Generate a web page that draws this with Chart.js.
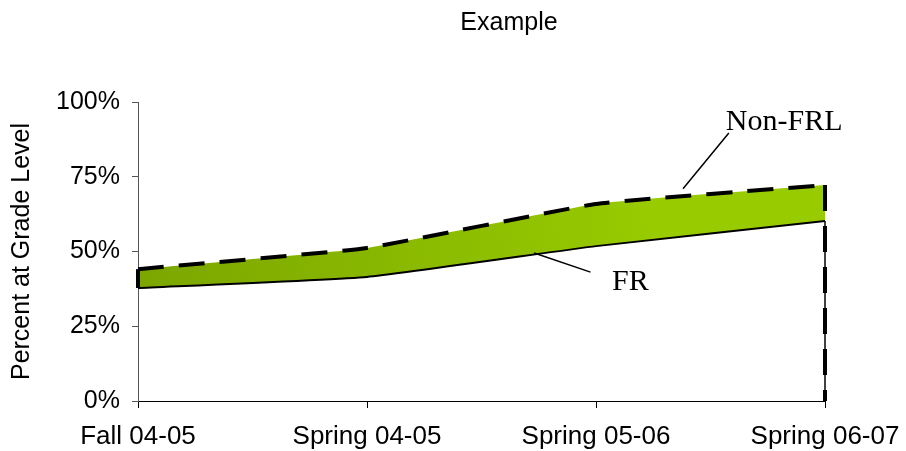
<!DOCTYPE html>
<html>
<head>
<meta charset="utf-8">
<script src="https://cdn.jsdelivr.net/npm/chart.js@4/dist/chart.umd.min.js"></script>
<style>
  html, body { margin: 0; padding: 0; background: #fff; }
  #wrap { width: 906px; height: 451px; }
</style>
</head>
<body>
<div id="wrap"><canvas id="chart" width="906" height="451"></canvas></div>
<script>
const categories = ['Fall 04-05', 'Spring 04-05', 'Spring 05-06', 'Spring 06-07'];
const frValues = [37.8, 41.5, 51.8, 60.2];
const nonFrlValues = [44.1, 51.2, 65.9, 72.2];
const yTicks = [0, 25, 50, 75, 100];

const sans = "'Liberation Sans', Arial, sans-serif";
const serif = "'Liberation Serif', 'Times New Roman', serif";

// green band between the two lines, a bit darker towards lower left
function bandFill(ctx) {
  const chart = ctx.chart;
  const area = chart.chartArea;
  if (!area) return '#99cc00';
  const y = chart.scales.y, x = chart.scales.x;
  const g = chart.ctx.createLinearGradient(area.left, y.getPixelForValue(36), x.getPixelForValue(2.3), y.getPixelForValue(66));
  g.addColorStop(0, '#7ba600');
  g.addColorStop(1, '#99cc00');
  return g;
}

// title, area edges and the two callouts
const extras = {
  id: 'extras',
  afterDatasetsDraw(chart) {
    const c = chart.ctx, x = chart.scales.x, y = chart.scales.y;
    const last = categories.length - 1;
    c.save();
    // right edge: solid under dashed
    const xr = x.getPixelForValue(last);
    c.strokeStyle = '#000';
    c.lineWidth = 1.5;
    c.beginPath();
    c.moveTo(xr, y.getPixelForValue(frValues[last]));
    c.lineTo(xr, y.getPixelForValue(0));
    c.stroke();
    c.lineWidth = 4;
    c.setLineDash([26, 15]);
    c.beginPath();
    c.moveTo(xr, y.getPixelForValue(nonFrlValues[last]));
    c.lineTo(xr, y.getPixelForValue(0));
    c.stroke();
    // left edge
    const xl = x.getPixelForValue(0);
    c.setLineDash([]);
    c.beginPath();
    c.moveTo(xl, y.getPixelForValue(nonFrlValues[0]));
    c.lineTo(xl, y.getPixelForValue(frValues[0]));
    c.stroke();
    // callouts
    c.lineWidth = 1.5;
    c.beginPath();
    c.moveTo(x.getPixelForValue(2.58), y.getPixelForValue(89.6));
    c.lineTo(x.getPixelForValue(2.38), y.getPixelForValue(71.0));
    c.moveTo(x.getPixelForValue(1.976), y.getPixelForValue(43.1));
    c.lineTo(x.getPixelForValue(1.73), y.getPixelForValue(49.5));
    c.stroke();
    c.fillStyle = '#000';
    c.font = '30px ' + serif;
    c.textAlign = 'left';
    c.textBaseline = 'alphabetic';
    c.fillText('Non-FRL', x.getPixelForValue(2.567), y.getPixelForValue(90.6));
    c.fillText('FR', x.getPixelForValue(2.07), y.getPixelForValue(37.1));
    // chart title
    c.font = '25px ' + sans;
    c.textAlign = 'center';
    c.fillText('Example', 509, 30);
    c.restore();
  }
};

new Chart(document.getElementById('chart').getContext('2d'), {
  type: 'line',
  data: {
    labels: categories,
    datasets: [
      {
        label: 'FR',
        data: frValues,
        borderColor: '#000',
        borderWidth: 2,
        pointRadius: 0,
        tension: 0.12,
        fill: false
      },
      {
        label: 'Non-FRL',
        data: nonFrlValues,
        borderColor: '#000',
        borderWidth: 4,
        borderDash: [26, 15],
        pointRadius: 0,
        tension: 0.12,
        fill: { target: '-1', above: bandFill, below: bandFill },
        backgroundColor: bandFill
      }
    ]
  },
  options: {
    responsive: false,
    animation: false,
    layout: { padding: { left: 0, right: 81, top: 102, bottom: 0 } },
    plugins: { legend: { display: false }, tooltip: { enabled: false }, title: { display: false } },
    scales: {
      x: {
        offset: false,
        grid: { display: true, drawOnChartArea: false, drawTicks: true, tickLength: 7, color: '#000' },
        border: { display: true, color: '#000', width: 1 },
        ticks: { color: '#000', font: { family: sans, size: 26 }, padding: 13, maxRotation: 0, autoSkip: false },
        afterFit(s) { s.height = 50; s.paddingLeft = 0; s.paddingRight = 0; }
      },
      y: {
        min: 0,
        max: 100,
        afterBuildTicks(s) { s.ticks = yTicks.map(v => ({ value: v })); },
        grid: { display: true, drawOnChartArea: false, drawTicks: true, tickLength: 6, color: '#555' },
        border: { display: true, color: '#555', width: 1 },
        ticks: { color: '#000', font: { family: sans, size: 25 }, padding: 12, callback: v => v + '%' },
        title: { display: true, text: 'Percent at Grade Level', color: '#000', font: { family: sans, size: 25 }, padding: { top: 7, bottom: 0 } },
        afterFit(s) { s.width = 138; s.paddingTop = 0; s.paddingBottom = 0; }
      }
    }
  },
  plugins: [extras]
});
</script>
</body>
</html>
